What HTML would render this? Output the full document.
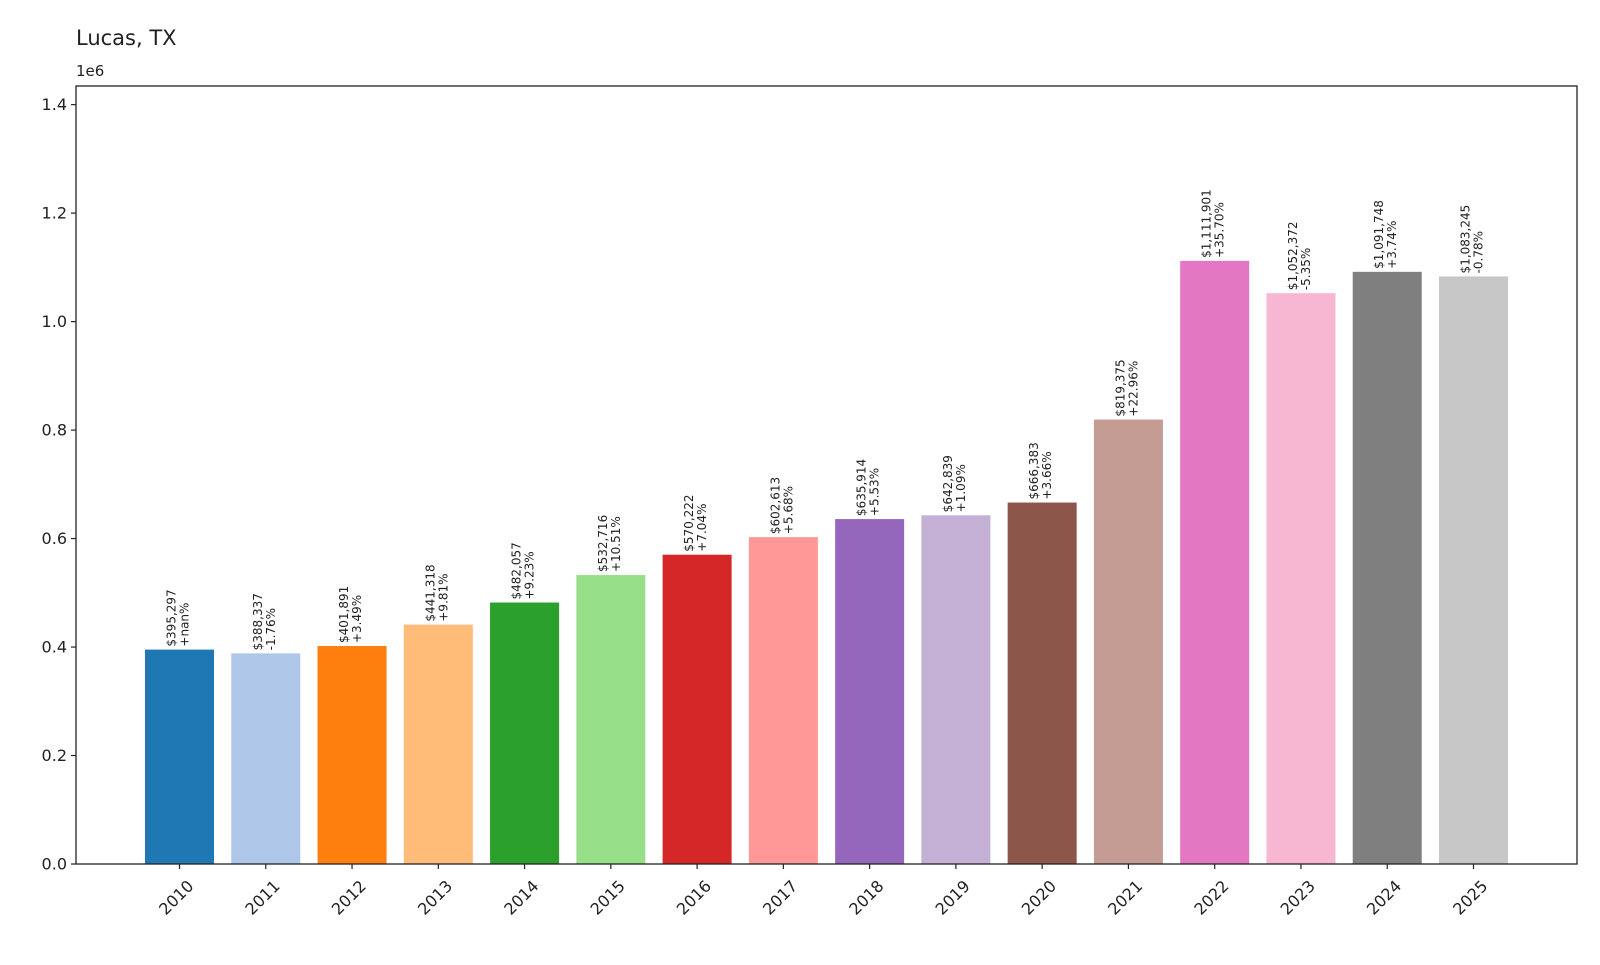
<!DOCTYPE html>
<html><head><meta charset="utf-8"><style>
body{margin:0;background:#fff;}
svg text{font-family:"DejaVu Sans","Liberation Sans",sans-serif;}
</style></head><body>
<svg id="chart" width="1600" height="960" viewBox="0 0 1600 960" xmlns="http://www.w3.org/2000/svg">
<rect width="1600" height="960" fill="#fff"/>
<text x="76" y="45" font-size="21" fill="#222">Lucas, TX</text>
<text x="76" y="76" font-size="15" fill="#222">1e6</text>
<g id="bars"></g>
<g id="axes"></g>
</svg>
<script>
const years=["2010","2011","2012","2013","2014","2015","2016","2017","2018","2019","2020","2021","2022","2023","2024","2025"];
const values=[395297,388337,401891,441318,482057,532716,570222,602613,635914,642839,666383,819375,1111901,1052372,1091748,1083245];
const changes=["+nan%","-1.76%","+3.49%","+9.81%","+9.23%","+10.51%","+7.04%","+5.68%","+5.53%","+1.09%","+3.66%","+22.96%","+35.70%","-5.35%","+3.74%","-0.78%"];
const yTicks=[0,0.2,0.4,0.6,0.8,1.0,1.2,1.4];
const colors=["#1f77b4","#aec7e8","#ff7f0e","#ffbb78","#2ca02c","#98df8a","#d62728","#ff9896","#9467bd","#c5b0d5","#8c564b","#c49c94","#e377c2","#f7b6d2","#7f7f7f","#c7c7c7"];
const L=76,R=1577,T=86,B=864;
const yMax=Math.max(...values)*1.29/1e6;
const xMin=-1.2,xMax=years.length-1+1.2;
const xS=i=>L+(i-xMin)/(xMax-xMin)*(R-L);
const yS=v=>B-v/yMax*(B-T);
const bw=0.8*(R-L)/(xMax-xMin);
const NS="http://www.w3.org/2000/svg";
const bars=document.getElementById('bars'),axes=document.getElementById('axes');
function mk(tag,at,parent){const e=document.createElementNS(NS,tag);for(const k in at)e.setAttribute(k,at[k]);parent.appendChild(e);return e;}
const fmt=v=>'$'+v.toLocaleString('en-US');
values.forEach((v,i)=>{
  const cx=xS(i),y=yS(v/1e6);
  const r=mk('rect',{x:cx-bw/2,y:y,width:bw,height:B-y,fill:colors[i]},bars);
  
  
  const t=mk('text',{transform:`translate(${cx},${y-3}) rotate(-90)`,'font-size':'12',fill:'#222'},bars);
  
  
  const a=mk('tspan',{x:0,dy:'-4'},t);a.textContent=fmt(v);
  const b=mk('tspan',{x:0,dy:'13'},t);b.textContent=changes[i];
  const tk=mk('line',{x1:cx,x2:cx,y1:B,y2:B+5,stroke:'#222','stroke-width':1.2},axes);
  
  
  const lb=mk('text',{transform:`translate(${cx+6},${B+14}) rotate(-45)`,'font-size':'16','text-anchor':'end',dy:'0.8em',fill:'#222'},axes);
  lb.textContent=years[i];
  
  
});
yTicks.forEach(v=>{
  const y=yS(v);
  const tk=mk('line',{x1:L-5,x2:L,y1:y,y2:y,stroke:'#222','stroke-width':1.2},axes);
  
  
  const lb=mk('text',{x:L-9,y:y+5.5,'font-size':'16','text-anchor':'end',fill:'#222'},axes);
  lb.textContent=v.toFixed(1);
  
  
});
const f=mk('rect',{x:L,y:T,width:R-L,height:B-T,fill:'none',stroke:'#222','stroke-width':1.3},axes);


</script>
</body></html>
